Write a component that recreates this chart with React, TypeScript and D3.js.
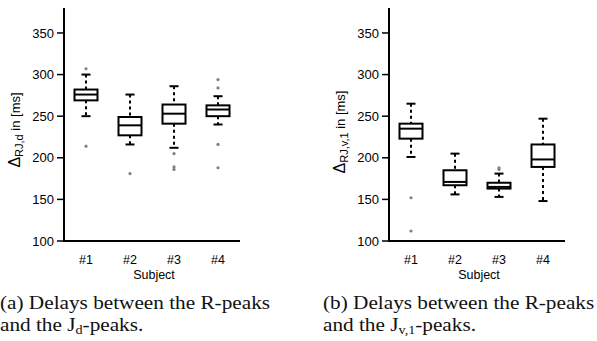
import React from "react";
import * as d3 from "d3";

const subjects = ["#1", "#2", "#3", "#4"];
const yTicks = [100, 150, 200, 250, 300, 350];

// (a) R -> J_d delays
const dWhiskerLow = [250, 216, 212, 240];
const dQ1 = [269, 227, 241, 250];
const dMedian = [276, 239, 253, 258];
const dQ3 = [282, 249, 264, 263];
const dWhiskerHigh = [300, 276, 286, 274];
const dOutliers = [[307, 214], [181], [205, 189, 186], [294, 284, 216, 188]];

// (b) R -> J_v,1 delays
const vWhiskerLow = [201, 156, 153, 148];
const vQ1 = [223, 167, 163, 189];
const vMedian = [235, 171, 165, 198];
const vQ3 = [241, 185, 170, 216];
const vWhiskerHigh = [265, 205, 181, 247];
const vOutliers = [[152, 112], [], [188, 186], []];

const SANS = "'Liberation Sans', Arial, sans-serif";
const SERIF = "'Liberation Serif', 'Times New Roman', serif";

type PanelProps = {
  x0: number;
  lo: number[];
  q1: number[];
  med: number[];
  q3: number[];
  hi: number[];
  out: number[][];
  sub: string;
  labelY: number;
};

function Panel({ x0, lo, q1, med, q3, hi, out, sub, labelY }: PanelProps) {
  const y = d3.scaleLinear().domain([100, 380]).range([241, 8]);
  const x = d3.scaleBand<string>().domain(subjects).range([x0, x0 + 176]);
  const bw = 23;
  const cap = 9;
  return (
    <g>
      {subjects.map((s, i) => {
        const cx = (x(s) as number) + x.bandwidth() / 2;
        return (
          <g key={s}>
            <line x1={cx} x2={cx} y1={y(hi[i])} y2={y(q3[i])} stroke="#000" strokeWidth={2} strokeDasharray="3,3" />
            <line x1={cx} x2={cx} y1={y(q1[i])} y2={y(lo[i])} stroke="#000" strokeWidth={2} strokeDasharray="3,3" />
            <line x1={cx - cap / 2} x2={cx + cap / 2} y1={y(hi[i])} y2={y(hi[i])} stroke="#000" strokeWidth={2} />
            <line x1={cx - cap / 2} x2={cx + cap / 2} y1={y(lo[i])} y2={y(lo[i])} stroke="#000" strokeWidth={2} />
            <rect x={cx - bw / 2} y={y(q3[i])} width={bw} height={y(q1[i]) - y(q3[i])} fill="#fff" stroke="#000" strokeWidth={2} />
            <line x1={cx - bw / 2} x2={cx + bw / 2} y1={y(med[i])} y2={y(med[i])} stroke="#000" strokeWidth={2} />
            {out[i].map((v, j) => (
              <circle key={j} cx={cx} cy={y(v)} r={1.6} fill="#808080" />
            ))}
            <text x={cx} y={264} textAnchor="middle" fontFamily={SANS} fontSize={12.5}>{s}</text>
          </g>
        );
      })}
      <line x1={x0} x2={x0} y1={8} y2={242} stroke="#000" strokeWidth={2} />
      <line x1={x0 - 1} x2={x0 + 176} y1={241} y2={241} stroke="#000" strokeWidth={2} />
      {yTicks.map((t) => (
        <g key={t}>
          <line x1={x0 - 7} x2={x0} y1={y(t)} y2={y(t)} stroke="#000" strokeWidth={1.5} />
          <text x={x0 - 10} y={y(t)} dy="0.36em" textAnchor="end" fontFamily={SANS} fontSize={13}>{t}</text>
        </g>
      ))}
      <text x={x0 + 90} y={279} textAnchor="middle" fontFamily={SANS} fontSize={12.5}>Subject</text>
      <text transform={`translate(${x0 - 44},${labelY}) rotate(-90)`} textAnchor="middle" fontFamily={SANS} fontSize={13}>
        <tspan fontSize={16}>Δ</tspan><tspan fontSize={11} dy={3}>{sub}</tspan><tspan dy={-3}> in [ms]</tspan>
      </text>
    </g>
  );
}

function Caption({ x0, tag, sub }: { x0: number; tag: string; sub: string }) {
  return (
    <g transform={`translate(${x0},0) scale(1.09,1)`} fontFamily={SERIF} fontSize={19.5} fill="#111">
      <text x={0} y={309.5}>{`(${tag}) Delays between the R-peaks`}</text>
      <text x={0} y={331}>
        and the J<tspan fontSize={13} dy={3}>{sub}</tspan><tspan dy={-3}>-peaks.</tspan>
      </text>
    </g>
  );
}

export default function App() {
  return (
    <svg width={597} height={341} style={{ position: "absolute", left: 0, top: 0, background: "#fff" }}>
      <rect width={597} height={341} fill="#fff" />
      <Panel x0={64} lo={dWhiskerLow} q1={dQ1} med={dMedian} q3={dQ3} hi={dWhiskerHigh} out={dOutliers} sub="RJ,d" labelY={130} />
      <Panel x0={389} lo={vWhiskerLow} q1={vQ1} med={vMedian} q3={vQ3} hi={vWhiskerHigh} out={vOutliers} sub="RJ,v,1" labelY={132} />
      <Caption x0={0} tag="a" sub="d" />
      <Caption x0={323} tag="b" sub="v,1" />
    </svg>
  );
}
